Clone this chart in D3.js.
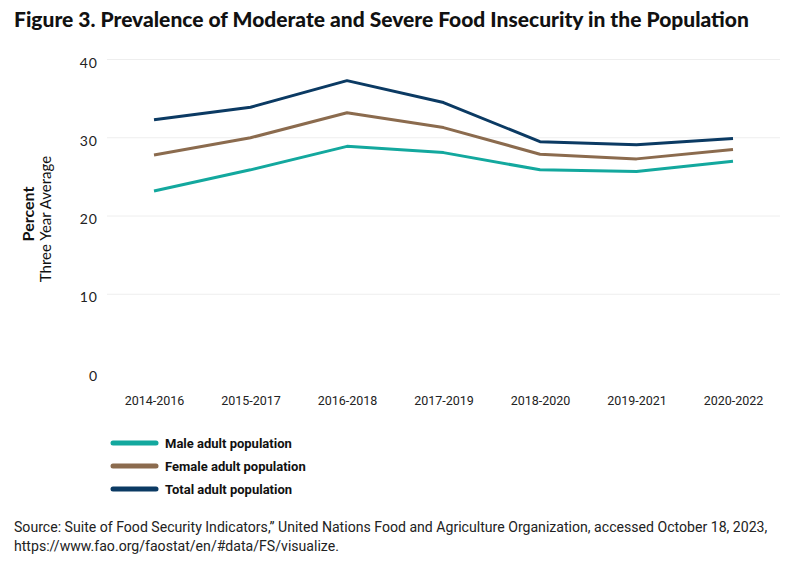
<!DOCTYPE html>
<html lang="en">
<head>
<meta charset="UTF-8">
<title>Figure 3</title>
<script src="https://cdn.jsdelivr.net/npm/d3@7"></script>
<style>
  body { margin: 0; background: #fff; }
  svg { display: block; }
  .narrow { font-family: Roboto, sans-serif; }
</style>
</head>
<body>
<svg width="808" height="562"></svg>
<script>
const periods = ["2014-2016", "2015-2017", "2016-2018", "2017-2019", "2018-2020", "2019-2021", "2020-2022"];
const male = [23.2, 25.9, 28.9, 28.1, 25.9, 25.7, 27.0];
const female = [27.8, 30.0, 33.2, 31.3, 27.9, 27.3, 28.5];
const total = [32.3, 33.9, 37.3, 34.5, 29.5, 29.1, 29.9];
const seriesNames = ["Male adult population", "Female adult population", "Total adult population"];
const yTicks = [0, 10, 20, 30, 40];

const colors = ["#13a89e", "#8b6b4e", "#0b3a63"];
const series = [male, female, total];

const svg = d3.select("svg");

// plot area
const plotLeft = 107, plotRight = 780, plotTop = 59.5, plotBottom = 372.5;

const x = d3.scalePoint()
    .domain(periods)
    .range([154, 733]);

const y = d3.scaleLinear()
    .domain([0, 40])
    .range([plotBottom, plotTop]);

svg.append("text")
    .attr("x", 14)
    .attr("y", 27)
    .attr("font-family", "Lato, sans-serif")
    .attr("font-weight", 900)
    .attr("font-size", 21)
    .attr("fill", "#111")
    .text("Figure 3. Prevalence of Moderate and Severe Food Insecurity in the Population");

// gridlines
svg.append("g")
    .selectAll("line")
    .data(yTicks.filter(d => d > 0))
    .join("line")
    .attr("x1", plotLeft)
    .attr("x2", plotRight)
    .attr("y1", d => y(d))
    .attr("y2", d => y(d))
    .attr("stroke", "#eeeeee")
    .attr("stroke-width", 1);

// y axis labels
const yAxis = svg.append("g")
    .attr("transform", `translate(98,0)`)
    .call(d3.axisLeft(y).tickValues(yTicks).tickSize(0).tickPadding(0));
yAxis.select(".domain").remove();
yAxis.selectAll("text")
    .attr("font-family", "Lato, sans-serif")
    .attr("font-size", 14)
    .attr("fill", "#222")
    .attr("letter-spacing", 1)
    .attr("dy", "0.55em");

// x axis labels
const xAxis = svg.append("g")
    .attr("transform", `translate(0,396)`)
    .call(d3.axisBottom(x).tickSize(0).tickPadding(0));
xAxis.select(".domain").remove();
xAxis.selectAll("text")
    .attr("class", "narrow")
    .attr("font-size", 12.5)
    .attr("fill", "#222");

// axis title
const yTitle = svg.append("g")
    .attr("transform", "rotate(-90)")
    .attr("text-anchor", "middle")
    .attr("font-family", "Lato, sans-serif")
    .attr("fill", "#111");
yTitle.append("text")
    .attr("x", -214).attr("y", 34)
    .attr("font-weight", 700)
    .attr("font-size", 16)
    .text("Percent");
yTitle.append("text")
    .attr("x", -219).attr("y", 51)
    .attr("font-size", 15)
    .text("Three Year Average");

// lines
const line = d3.line()
    .x((d, i) => x(periods[i]))
    .y(d => y(d));

svg.append("g")
    .selectAll("path")
    .data(series)
    .join("path")
    .attr("d", line)
    .attr("fill", "none")
    .attr("stroke", (d, i) => colors[i])
    .attr("stroke-width", 3)
    .attr("stroke-linejoin", "round");

// legend
const legend = svg.append("g")
    .selectAll("g")
    .data(seriesNames)
    .join("g")
    .attr("transform", (d, i) => `translate(0,${443 + i * 23})`);
legend.append("line")
    .attr("x1", 113).attr("x2", 156)
    .attr("stroke", (d, i) => colors[i])
    .attr("stroke-width", 5)
    .attr("stroke-linecap", "round");
legend.append("text")
    .attr("class", "narrow")
    .attr("x", 165)
    .attr("dy", "0.35em")
    .attr("font-size", 13)
    .attr("font-weight", 700)
    .attr("fill", "#111")
    .text(d => d);

// source
const source = svg.append("text")
    .attr("class", "narrow")
    .attr("font-size", 14.1)
    .attr("fill", "#222");
source.append("tspan")
    .attr("x", 14).attr("y", 532)
    .text("Source: Suite of Food Security Indicators,\u201d United Nations Food and Agriculture Organization, accessed October 18, 2023,");
source.append("tspan")
    .attr("x", 14).attr("y", 551)
    .text("https://www.fao.org/faostat/en/#data/FS/visualize.");
</script>
</body>
</html>
